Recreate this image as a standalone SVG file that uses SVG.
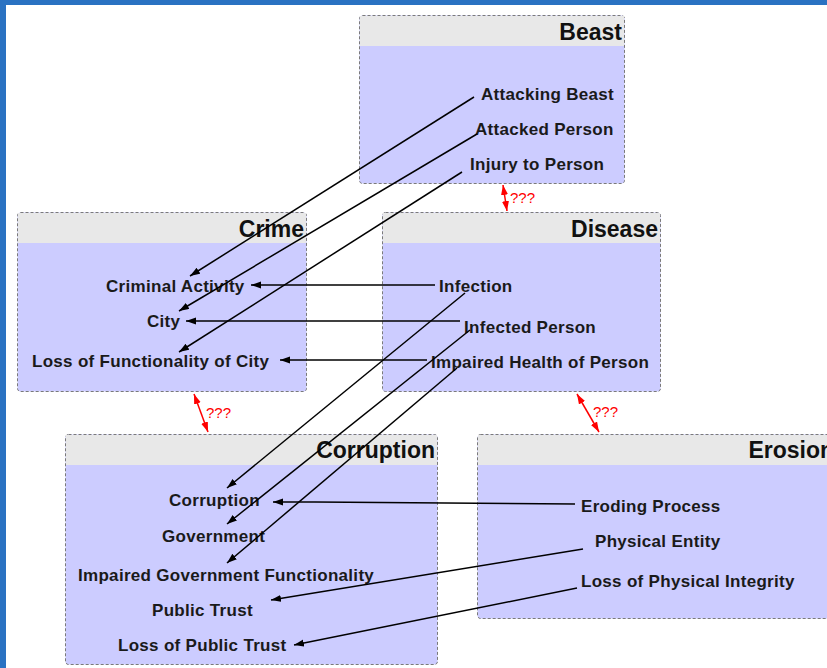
<svg xmlns="http://www.w3.org/2000/svg" width="827" height="668" viewBox="0 0 827 668">
<defs>
<style>
.box{fill:#ccccff;stroke:#7a7a7a;stroke-width:1;stroke-dasharray:3,2}
.hdr{fill:#e8e8e8}
.title{font-family:"Liberation Sans",Arial,sans-serif;font-weight:bold;font-size:23px;fill:#111;text-anchor:end}
.item{font-family:"Liberation Sans",Arial,sans-serif;font-weight:bold;font-size:17px;letter-spacing:0.3px;fill:#1a1a1a}
.conn{stroke:#000;stroke-width:1.5;fill:none;marker-end:url(#ah)}
.rel{stroke:#ff0000;stroke-width:1.5;fill:none;marker-start:url(#rh);marker-end:url(#rh)}
.q{font-family:"Liberation Sans",Arial,sans-serif;font-size:15px;fill:#ff0000}
</style>
<marker id="ah" markerUnits="userSpaceOnUse" markerWidth="11" markerHeight="8" refX="10" refY="3.5" orient="auto"><path d="M0,0 L10,3.5 L0,7 z" fill="#000"/></marker>
<marker id="rh" markerUnits="userSpaceOnUse" markerWidth="11" markerHeight="8" refX="10" refY="3.5" orient="auto-start-reverse"><path d="M0,0 L10,3.5 L0,7 z" fill="#ff0000"/></marker>
</defs>
<rect x="0" y="0" width="827" height="668" fill="#ffffff"/>
<rect x="0" y="0" width="827" height="5" fill="#2a72c2"/>
<rect x="0" y="0" width="6" height="668" fill="#2a72c2"/>

<g id="beast">
<rect class="box" x="359.5" y="15.5" width="265" height="168" rx="3"/>
<rect class="hdr" x="360" y="16" width="264" height="30"/>
<text class="title" x="622" y="40">Beast</text>
<text class="item" x="481" y="100">Attacking Beast</text>
<text class="item" x="475" y="135">Attacked Person</text>
<text class="item" x="470" y="170">Injury to Person</text>
</g>

<g id="crime">
<rect class="box" x="17.5" y="212.5" width="289" height="179" rx="3"/>
<rect class="hdr" x="18" y="213" width="288" height="30"/>
<text class="title" x="304" y="237">Crime</text>
<text class="item" x="106" y="292">Criminal Activity</text>
<text class="item" x="147" y="327">City</text>
<text class="item" x="32" y="367">Loss of Functionality of City</text>
</g>

<g id="disease">
<rect class="box" x="382.5" y="212.5" width="278" height="179" rx="3"/>
<rect class="hdr" x="383" y="213" width="277" height="30"/>
<text class="title" x="658" y="237">Disease</text>
<text class="item" x="439" y="292">Infection</text>
<text class="item" x="464" y="333">Infected Person</text>
<text class="item" x="431" y="368">Impaired Health of Person</text>
</g>

<g id="corruption">
<rect class="box" x="65.5" y="434.5" width="372" height="230" rx="3"/>
<rect class="hdr" x="66" y="435" width="371" height="30"/>
<text class="title" x="435" y="458">Corruption</text>
<text class="item" x="169" y="506">Corruption</text>
<text class="item" x="162" y="542">Government</text>
<text class="item" x="78" y="581">Impaired Government Functionality</text>
<text class="item" x="152" y="616">Public Trust</text>
<text class="item" x="118" y="651">Loss of Public Trust</text>
</g>

<g id="erosion">
<rect class="box" x="477.5" y="434.5" width="370" height="184" rx="3"/>
<rect class="hdr" x="478" y="435" width="369" height="30"/>
<text class="title" x="834" y="458">Erosion</text>
<text class="item" x="581" y="512">Eroding Process</text>
<text class="item" x="595" y="547">Physical Entity</text>
<text class="item" x="581" y="587">Loss of Physical Integrity</text>
</g>

<g id="connectors">
<line class="conn" x1="474" y1="97" x2="190" y2="276"/>
<line class="conn" x1="477" y1="134" x2="179" y2="311"/>
<line class="conn" x1="462" y1="172" x2="179" y2="352"/>
<line class="conn" x1="435" y1="285" x2="251" y2="285"/>
<line class="conn" x1="460" y1="321" x2="186" y2="321"/>
<line class="conn" x1="427" y1="360" x2="280" y2="360"/>
<line class="conn" x1="465" y1="293" x2="227" y2="488"/>
<line class="conn" x1="470" y1="330" x2="227" y2="524"/>
<line class="conn" x1="457" y1="368" x2="227" y2="563"/>
<polyline class="conn" points="575,504 315,502 273,502"/>
<line class="conn" x1="583" y1="549" x2="271" y2="600"/>
<line class="conn" x1="577" y1="588" x2="294" y2="645"/>
<line class="rel" x1="503" y1="185" x2="507" y2="211"/>
<line class="rel" x1="194" y1="394" x2="208" y2="432"/>
<line class="rel" x1="577" y1="394" x2="599" y2="432"/>
<text class="q" x="510" y="203">???</text>
<text class="q" x="206" y="418">???</text>
<text class="q" x="593" y="417">???</text>
</g>
</svg>
